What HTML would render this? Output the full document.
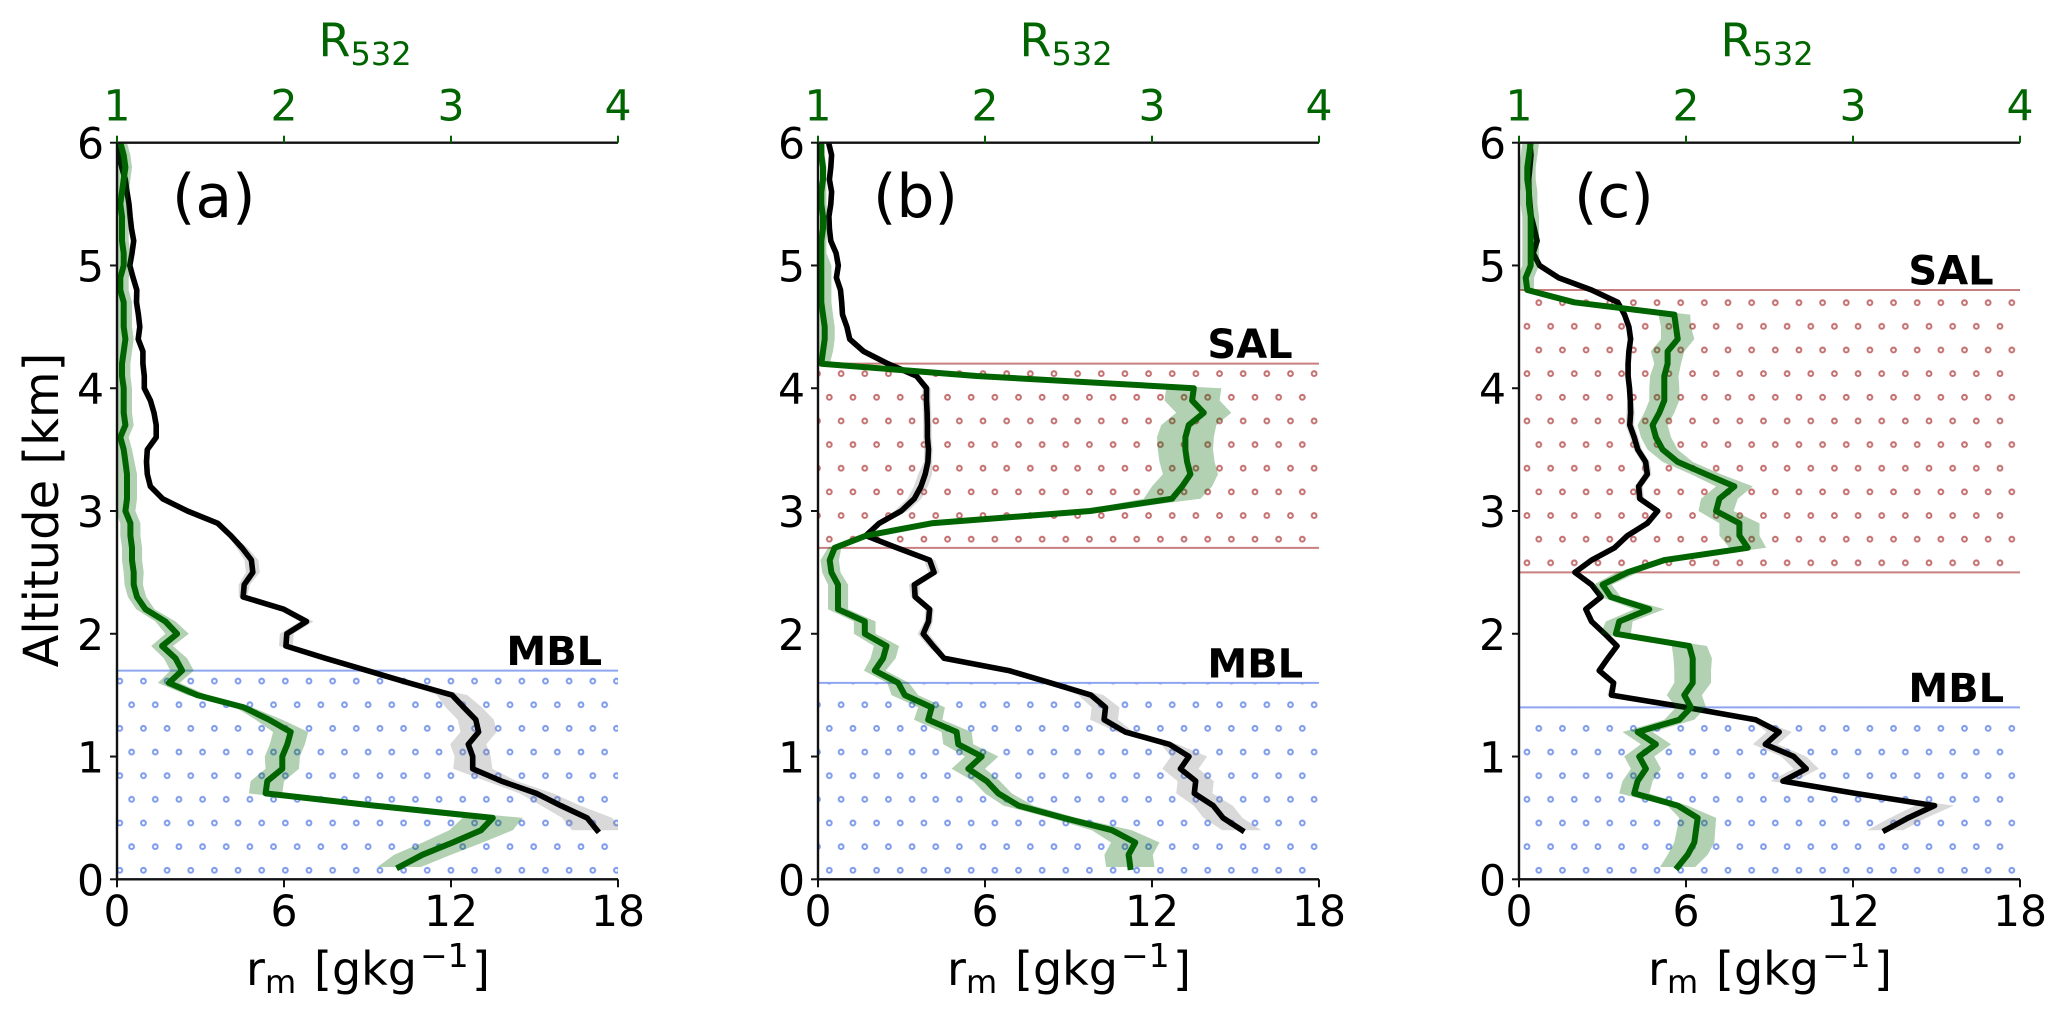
<!DOCTYPE html>
<html lang="en">
<head>
<meta charset="utf-8">
<title>Vertical profiles of mixing ratio and backscatter ratio</title>
<style>
html,body{margin:0;padding:0;background:#fff;}
svg{display:block;}
text{font-family:"DejaVu Sans","Liberation Sans",sans-serif;}
.tick{font-size:42.5px;}
.title{font-size:46px;}
.ytitle{font-size:48px;}
.sub{font-size:32px;}
.sup{font-size:33px;}
.letter{font-size:60px;}
.layer{font-size:40px;font-weight:bold;}
.green{fill:#006400;}
</style>
</head>
<body>
<svg id="figure" xmlns="http://www.w3.org/2000/svg" width="2068" height="1019" viewBox="0 0 2068 1019">
<defs>
<pattern id="hatch-blue" patternUnits="userSpaceOnUse" x="113.9" y="858.5" width="23.65" height="47.3">
<circle cx="5.9" cy="11.8" r="2.4" fill="none" stroke="#7f9bec" stroke-width="2"/>
<circle cx="17.73" cy="35.45" r="2.4" fill="none" stroke="#7f9bec" stroke-width="2"/>
</pattern>
<pattern id="hatch-red" patternUnits="userSpaceOnUse" x="113.9" y="858.5" width="23.65" height="47.3">
<circle cx="5.9" cy="11.8" r="2.4" fill="none" stroke="#c47070" stroke-width="2"/>
<circle cx="17.73" cy="35.45" r="2.4" fill="none" stroke="#c47070" stroke-width="2"/>
</pattern>
<clipPath id="clip-a"><rect x="117" y="142.7" width="501" height="736.6"/></clipPath>
<clipPath id="clip-b"><rect x="818" y="142.7" width="501" height="736.6"/></clipPath>
<clipPath id="clip-c"><rect x="1519" y="142.7" width="501" height="736.6"/></clipPath>
</defs>
<rect width="2068" height="1019" fill="#fff"/>

<g id="panel-a"></g>
<g id="panel-b"></g>
<g id="panel-c"></g>

<g>
<text class="ytitle" transform="translate(58 510) rotate(-90)" text-anchor="middle">Altitude [km]</text>
<text class="title green" x="318.5" y="56.7">R<tspan class="sub" y="65">532</tspan></text>
<text class="title" x="246" y="985">r<tspan class="sub" x="265" y="993">m</tspan><tspan x="314" y="985">[gkg</tspan><tspan class="sup" x="420" y="967">−1</tspan><tspan x="472" y="985">]</tspan></text>
<text class="letter" x="172" y="217">(a)</text>
</g>
<g>
<text class="title green" x="1019.5" y="56.7">R<tspan class="sub" y="65">532</tspan></text>
<text class="title" x="947" y="985">r<tspan class="sub" x="966" y="993">m</tspan><tspan x="1015" y="985">[gkg</tspan><tspan class="sup" x="1121" y="967">−1</tspan><tspan x="1173" y="985">]</tspan></text>
<text class="letter" x="873" y="217">(b)</text>
</g>
<g>
<text class="title green" x="1720.5" y="56.7">R<tspan class="sub" y="65">532</tspan></text>
<text class="title" x="1648" y="985">r<tspan class="sub" x="1667" y="993">m</tspan><tspan x="1716" y="985">[gkg</tspan><tspan class="sup" x="1822" y="967">−1</tspan><tspan x="1874" y="985">]</tspan></text>
<text class="letter" x="1574" y="217">(c)</text>
</g>
</svg>

<script>
const altitudes = [0.1,0.2,0.3,0.4,0.5,0.6,0.7,0.8,0.9,1.0,1.1,1.2,1.3,1.4,1.5,1.6,1.7,1.8,1.9,2.0,2.1,2.2,2.3,2.4,2.5,2.6,2.7,2.8,2.9,3.0,3.1,3.2,3.3,3.4,3.5,3.6,3.7,3.8,3.9,4.0,4.1,4.2,4.3,4.4,4.5,4.6,4.7,4.8,4.9,5.0,5.1,5.2,5.3,5.4,5.5,5.6,5.7,5.8,5.9,6.0];
const rmTicks = [0,6,12,18];
const ratioTicks = [1,2,3,4];
const altitudeTicks = [0,1,2,3,4,5,6];

/* Backscatter ratio R532, from 0.1 km to 6 km */
const ratioA = [2.69,2.83,3.01,3.18,3.25,2.54,1.89,1.90,1.99,1.99,2.02,2.04,1.91,1.76,1.48,1.31,1.39,1.35,1.27,1.36,1.29,1.17,1.12,1.10,1.10,1.09,1.09,1.08,1.08,1.05,1.06,1.06,1.06,1.05,1.04,1.02,1.05,1.04,1.04,1.04,1.03,1.03,1.04,1.05,1.04,1.04,1.04,1.02,1.02,1.04,1.04,1.03,1.03,1.03,1.02,1.03,1.04,1.05,1.04,1.02];
const ratioErrA = [0.13,0.17,0.18,0.19,0.18,0.12,0.10,0.10,0.10,0.105,0.105,0.105,0.08,0.05,0.06,0.065,0.07,0.07,0.065,0.07,0.06,0.055,0.055,0.055,0.06,0.06,0.06,0.06,0.06,0.06,0.06,0.06,0.06,0.055,0.05,0.05,0.05,0.05,0.05,0.05,0.05,0.05,0.05,0.05,0.05,0.05,0.05,0.05,0.05,0.05,0.04,0.04,0.04,0.04,0.04,0.04,0.04,0.04,0.04,0.04];
const ratioB = [2.87,2.86,2.90,2.76,2.47,2.20,2.08,2.01,1.90,1.98,1.84,1.83,1.66,1.68,1.52,1.48,1.34,1.39,1.41,1.28,1.28,1.12,1.12,1.12,1.08,1.07,1.10,1.29,1.68,2.63,3.12,3.18,3.23,3.21,3.20,3.20,3.22,3.31,3.24,3.25,1.95,1.02,1.03,1.04,1.04,1.03,1.02,1.02,1.02,1.02,1.02,1.02,1.03,1.03,1.02,1.02,1.03,1.03,1.02,1.02];
const ratioErrB = [0.145,0.145,0.145,0.12,0.08,0.09,0.08,0.08,0.10,0.10,0.09,0.09,0.085,0.08,0.08,0.065,0.065,0.075,0.075,0.065,0.065,0.06,0.06,0.06,0.055,0.055,0.04,0.04,0.04,0.08,0.17,0.18,0.165,0.165,0.165,0.17,0.165,0.165,0.165,0.165,0.08,0.05,0.06,0.06,0.06,0.06,0.06,0.06,0.06,0.06,0.03,0.03,0.03,0.03,0.03,0.03,0.02,0.02,0.02,0.02];
const ratioC = [1.95,2.01,2.05,2.06,2.07,1.95,1.69,1.71,1.76,1.72,1.82,1.71,1.96,2.03,1.99,2.04,2.04,2.04,2.02,1.58,1.60,1.78,1.55,1.50,1.65,1.87,2.37,2.32,2.32,2.18,2.20,2.29,2.12,1.95,1.86,1.82,1.80,1.84,1.87,1.87,1.87,1.89,1.89,1.95,1.94,1.93,1.33,1.05,1.04,1.07,1.07,1.07,1.07,1.07,1.06,1.06,1.05,1.05,1.06,1.07];
const ratioErrC = [0.105,0.12,0.12,0.115,0.11,0.06,0.09,0.09,0.09,0.09,0.09,0.09,0.09,0.09,0.105,0.11,0.11,0.115,0.105,0.09,0.08,0.09,0.06,0.055,0.065,0.05,0.11,0.12,0.12,0.105,0.11,0.11,0.09,0.09,0.09,0.09,0.09,0.09,0.09,0.09,0.085,0.08,0.10,0.10,0.09,0.095,0.03,0.04,0.05,0.05,0.05,0.05,0.05,0.05,0.05,0.05,0.05,0.05,0.05,0.05];

/* Mixing ratio r_m, from 0.4 km to 6 km */
const mixingA = [17.25,16.89,15.94,15.07,13.81,12.78,12.78,12.62,12.99,12.89,12.46,12.04,10.49,8.99,7.49,6.07,6.10,6.81,5.99,4.53,4.57,4.88,4.83,4.49,4.09,3.62,2.53,1.64,1.20,1.09,1.06,1.09,1.41,1.41,1.33,1.20,0.98,0.98,0.93,0.93,0.76,0.82,0.77,0.70,0.71,0.58,0.46,0.54,0.60,0.52,0.47,0.43,0.36,0.30,0.17,0.06,0.03];
const mixingErrA = [0.9,0.9,0.7,0.6,0.55,0.7,0.65,0.65,0.65,0.65,0.65,0.55,0.12,0.1,0.1,0.25,0.25,0.25,0.2,0.15,0.2,0.25,0.25,0.2,0.08,0.08,0.08,0.08,0.08,0.08,0.08,0.08,0.08,0.08,0.08,0.08,0.08,0.08,0.08,0.08,0.08,0.08,0.08,0.08,0.08,0.08,0.08,0.08,0.08,0.08,0.08,0.08,0.08,0.08,0.08,0.08,0.08];
const mixingB = [15.23,14.55,14.20,13.52,13.57,13.02,13.33,12.62,11.04,10.28,10.33,9.81,8.36,6.86,4.53,4.14,3.78,3.97,4.01,3.49,3.46,4.17,4.01,2.83,1.72,2.20,2.99,3.46,3.70,3.85,3.95,3.97,3.93,3.93,3.92,3.90,3.90,3.54,2.51,1.64,1.14,1.04,0.88,0.85,0.81,0.66,0.73,0.65,0.46,0.41,0.39,0.46,0.49,0.41,0.46,0.49,0.38];
const mixingErrB = [0.7,0.7,0.7,0.65,0.65,0.65,0.65,0.3,0.3,0.5,0.5,0.45,0.1,0.1,0.1,0.2,0.2,0.15,0.15,0.15,0.2,0.2,0.2,0.1,0.05,0.05,0.25,0.25,0.25,0.25,0.15,0.15,0.15,0.15,0.15,0.15,0.15,0.1,0.05,0.05,0.05,0.05,0.05,0.05,0.05,0.05,0.05,0.05,0.05,0.05,0.05,0.05,0.05,0.05,0.05,0.05,0.05];
const mixingC = [13.16,13.98,14.93,12.09,9.48,10.32,9.87,8.85,9.35,8.50,6.00,3.32,3.40,2.88,3.19,3.52,3.08,2.61,2.40,2.95,2.61,2.01,2.61,3.43,3.90,4.61,4.98,4.34,4.30,4.61,4.55,4.27,4.14,3.98,4.01,4.00,3.97,3.92,3.92,3.95,4.01,3.95,3.79,3.55,2.61,1.42,0.74,0.51,0.65,0.55,0.44,0.39,0.36,0.35,0.39,0.43,0.39];
const mixingErrC = [0.65,0.65,0.7,0.2,0.45,0.45,0.45,0.45,0.45,0.15,0.1,0.15,0.1,0.1,0.1,0.1,0.1,0.1,0.1,0.1,0.1,0.1,0.1,0.1,0.1,0.15,0.15,0.15,0.15,0.15,0.15,0.15,0.15,0.15,0.15,0.1,0.1,0.1,0.1,0.1,0.1,0.1,0.1,0.1,0.05,0.05,0.05,0.05,0.05,0.05,0.05,0.05,0.05,0.05,0.05,0.05,0.05];

/* Layer boundaries [bottom, top] in km */
const mblA = [0,1.7];
const mblB = [0,1.6];
const mblC = [0,1.4];
const salB = [2.7,4.2];
const salC = [2.5,4.8];

const SVG_NS = 'http://www.w3.org/2000/svg';
const AXIS_WIDTH = 501;
const AXIS_TOP = 142.7;
const AXIS_BOTTOM = 879.3;

function make(tag, attrs, parent, text) {
  const el = document.createElementNS(SVG_NS, tag);
  for (const key in attrs) el.setAttribute(key, attrs[key]);
  if (text !== undefined) el.textContent = text;
  parent.appendChild(el);
  return el;
}

function drawPanel(id, left, ratio, ratioErr, mixing, mixingErr, mbl, sal) {
  const root = document.getElementById('panel-' + id);
  const right = left + AXIS_WIDTH;
  const xMix = v => left + v / 18 * AXIS_WIDTH;
  const xRatio = v => left + (v - 1) / 3 * AXIS_WIDTH;
  const yAlt = v => AXIS_BOTTOM - v / 6 * (AXIS_BOTTOM - AXIS_TOP);
  const clip = 'url(#clip-' + id + ')';
  const mixAlt = altitudes.slice(altitudes.length - mixing.length);

  function drawLayer(range, label, color, hatch) {
    const area = make('rect', {x: left, y: yAlt(range[1]), width: AXIS_WIDTH, height: yAlt(range[0]) - yAlt(range[1]), fill: 'url(#' + hatch + ')'}, root);
    
    
    for (const edge of range) {
      const boundary = make('line', {x1: left, x2: right, y1: yAlt(edge), y2: yAlt(edge), stroke: color, 'stroke-width': 2}, root);
      
      
    }
    const caption = make('text', {x: left + 389.4, y: yAlt(range[1]) - 5.6, class: 'layer'}, root, label);
    
    
  }
  drawLayer(mbl, 'MBL', '#8ea6f0', 'hatch-blue');
  if (sal) drawLayer(sal, 'SAL', '#c97f7f', 'hatch-red');

  function bandPoints(values, errors, alts, xFn) {
    const rising = values.map((v, i) => xFn(v - errors[i]).toFixed(1) + ',' + yAlt(alts[i]).toFixed(1));
    const falling = values.map((v, i) => xFn(v + errors[i]).toFixed(1) + ',' + yAlt(alts[i]).toFixed(1)).reverse();
    return rising.concat(falling).join(' ');
  }
  function linePoints(values, alts, xFn) {
    return values.map((v, i) => xFn(v).toFixed(1) + ',' + yAlt(alts[i]).toFixed(1)).join(' ');
  }

  const mixBand = make('polygon', {points: bandPoints(mixing, mixingErr, mixAlt, xMix), fill: '#808080', 'fill-opacity': 0.3, 'clip-path': clip}, root);
  
  

  const mixLine = make('polyline', {points: linePoints(mixing, mixAlt, xMix), fill: 'none', stroke: '#000', 'stroke-width': 5.6, 'stroke-linejoin': 'round', 'stroke-linecap': 'square', 'clip-path': clip}, root);
  
  

  const ratioBand = make('polygon', {points: bandPoints(ratio, ratioErr, altitudes, xRatio), fill: '#006400', 'fill-opacity': 0.3, 'clip-path': clip}, root);
  
  

  const ratioLine = make('polyline', {points: linePoints(ratio, altitudes, xRatio), fill: 'none', stroke: '#006400', 'stroke-width': 6, 'stroke-linejoin': 'round', 'stroke-linecap': 'square', 'clip-path': clip}, root);
  
  

  const leftSpine = make('line', {x1: left, x2: left, y1: AXIS_TOP, y2: AXIS_BOTTOM, stroke: '#111', 'stroke-width': 2.4}, root);
  
  
  const topSpine = make('line', {x1: left, x2: right, y1: AXIS_TOP, y2: AXIS_TOP, stroke: '#111', 'stroke-width': 2.4}, root);
  
  
  const bottomSpine = make('line', {x1: left, x2: right, y1: AXIS_BOTTOM, y2: AXIS_BOTTOM, stroke: '#111', 'stroke-width': 2.4}, root);
  
  

  for (const t of rmTicks) {
    const mark = make('line', {x1: xMix(t), x2: xMix(t), y1: AXIS_BOTTOM, y2: AXIS_BOTTOM + 8, stroke: '#111', 'stroke-width': 2}, root);
    
    
    const lab = make('text', {x: xMix(t), y: 926, class: 'tick', 'text-anchor': 'middle'}, root, String(t));
    
    
  }
  for (const t of ratioTicks) {
    const mark = make('line', {x1: xRatio(t), x2: xRatio(t), y1: AXIS_TOP, y2: AXIS_TOP - 7, stroke: '#006400', 'stroke-width': 2}, root);
    
    
    const lab = make('text', {x: xRatio(t), y: 120.7, class: 'tick green', 'text-anchor': 'middle'}, root, String(t));
    
    
  }
  for (const t of altitudeTicks) {
    const mark = make('line', {x1: left, x2: left - 7, y1: yAlt(t), y2: yAlt(t), stroke: '#111', 'stroke-width': 2}, root);
    
    
    const lab = make('text', {x: left - 13, y: yAlt(t) + 16, class: 'tick', 'text-anchor': 'end'}, root, String(t));
    
    
  }
}

drawPanel('a', 117, ratioA, ratioErrA, mixingA, mixingErrA, mblA, null);
drawPanel('b', 818, ratioB, ratioErrB, mixingB, mixingErrB, mblB, salB);
drawPanel('c', 1519, ratioC, ratioErrC, mixingC, mixingErrC, mblC, salC);
</script>
</body>
</html>
